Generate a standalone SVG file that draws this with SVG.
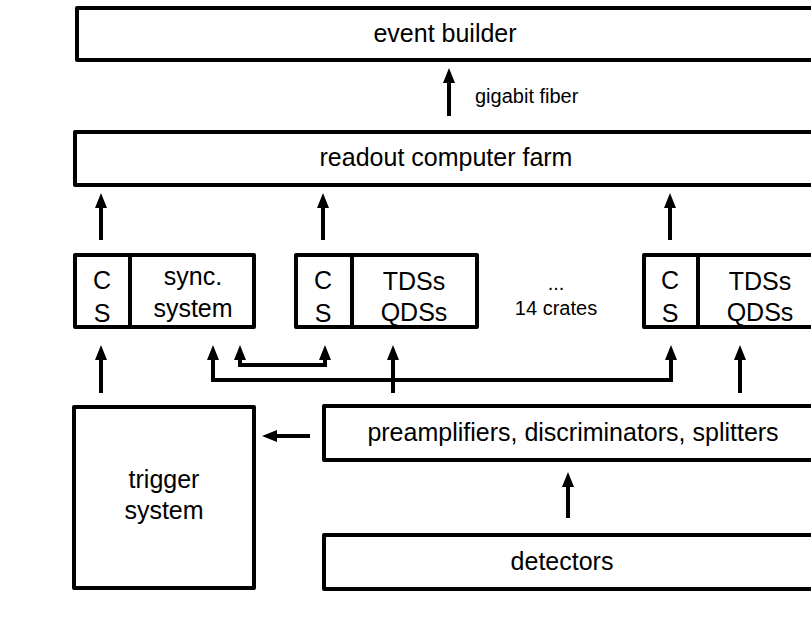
<svg xmlns="http://www.w3.org/2000/svg" width="811" height="622" viewBox="0 0 811 622">
<style>
.box{fill:#fff;stroke:#000;stroke-width:4;stroke-linejoin:round}
.div{stroke:#000;stroke-width:4}
.t{font-family:"Liberation Sans",Arial,Helvetica,sans-serif;font-size:25px;fill:#000;text-anchor:middle}
.s{font-family:"Liberation Sans",Arial,Helvetica,sans-serif;font-size:20px;fill:#000}
.c{fill:none;stroke:#000;stroke-width:4}
</style>
<defs>
<marker id="ah" markerUnits="userSpaceOnUse" markerWidth="15" markerHeight="12" refX="7" refY="6" orient="auto-start-reverse" viewBox="0 0 15 12">
<path d="M0,0 L15,6 L0,12 z" fill="#000"/>
</marker>
</defs>
<rect width="811" height="622" fill="#fff"/>
<g id="event-builder">
<rect class="box" x="77" y="8" width="760" height="52"/>
<text class="t" x="445" y="42">event builder</text>
</g>
<g id="readout-farm">
<rect class="box" x="75" y="132" width="760" height="53"/>
<text class="t" x="446" y="166">readout computer farm</text>
</g>
<g id="crate-sync">
<rect class="box" x="75" y="255" width="179" height="72"/>
<line class="div" x1="130" y1="255" x2="130" y2="327"/>
<text class="t" x="102" y="289">C</text>
<text class="t" x="102" y="322">S</text>
<text class="t" x="193" y="285">sync.</text>
<text class="t" x="193" y="317">system</text>
</g>
<g id="crate-2">
<rect class="box" x="296" y="255" width="181" height="72"/>
<line class="div" x1="352" y1="255" x2="352" y2="327"/>
<text class="t" x="323" y="289">C</text>
<text class="t" x="323" y="322">S</text>
<text class="t" x="414" y="290">TDSs</text>
<text class="t" x="414" y="321">QDSs</text>
</g>
<g id="crates-label">
<text class="s" x="556" y="290" text-anchor="middle">...</text>
<text class="s" x="556" y="315" text-anchor="middle">14 crates</text>
</g>
<g id="crate-14">
<rect class="box" x="644" y="255" width="190" height="72"/>
<line class="div" x1="698" y1="255" x2="698" y2="327"/>
<text class="t" x="670" y="289">C</text>
<text class="t" x="670" y="322">S</text>
<text class="t" x="760" y="290">TDSs</text>
<text class="t" x="760" y="321">QDSs</text>
</g>
<g id="trigger-system">
<rect class="box" x="74" y="407" width="180" height="181"/>
<text class="t" x="164" y="488">trigger</text>
<text class="t" x="164" y="519">system</text>
</g>
<g id="preamplifiers">
<rect class="box" x="324" y="406" width="510" height="54"/>
<text class="t" x="573" y="441">preamplifiers, discriminators, splitters</text>
</g>
<g id="detectors">
<rect class="box" x="324" y="535" width="510" height="54"/>
<text class="t" x="562" y="570">detectors</text>
</g>
<g id="connectors">
<line class="c" x1="449" y1="116" x2="449" y2="76" marker-end="url(#ah)"/>
<text class="s" x="475" y="103">gigabit fiber</text>
<line class="c" x1="101" y1="240" x2="101" y2="201" marker-end="url(#ah)"/>
<line class="c" x1="323" y1="240" x2="323" y2="201" marker-end="url(#ah)"/>
<line class="c" x1="670" y1="240" x2="670" y2="201" marker-end="url(#ah)"/>
<line class="c" x1="101" y1="393" x2="101" y2="353" marker-end="url(#ah)"/>
<path class="c" d="M213,353 V380 H671 V353" marker-start="url(#ah)" marker-end="url(#ah)"/>
<path class="c" d="M240,353 V365 H325 V353" marker-start="url(#ah)" marker-end="url(#ah)"/>
<line class="c" x1="393" y1="393" x2="393" y2="353" marker-end="url(#ah)"/>
<line class="c" x1="740" y1="393" x2="740" y2="353" marker-end="url(#ah)"/>
<line class="c" x1="568" y1="518" x2="568" y2="480" marker-end="url(#ah)"/>
<line class="c" x1="310" y1="436" x2="270" y2="436" marker-end="url(#ah)"/>
</g>
</svg>
